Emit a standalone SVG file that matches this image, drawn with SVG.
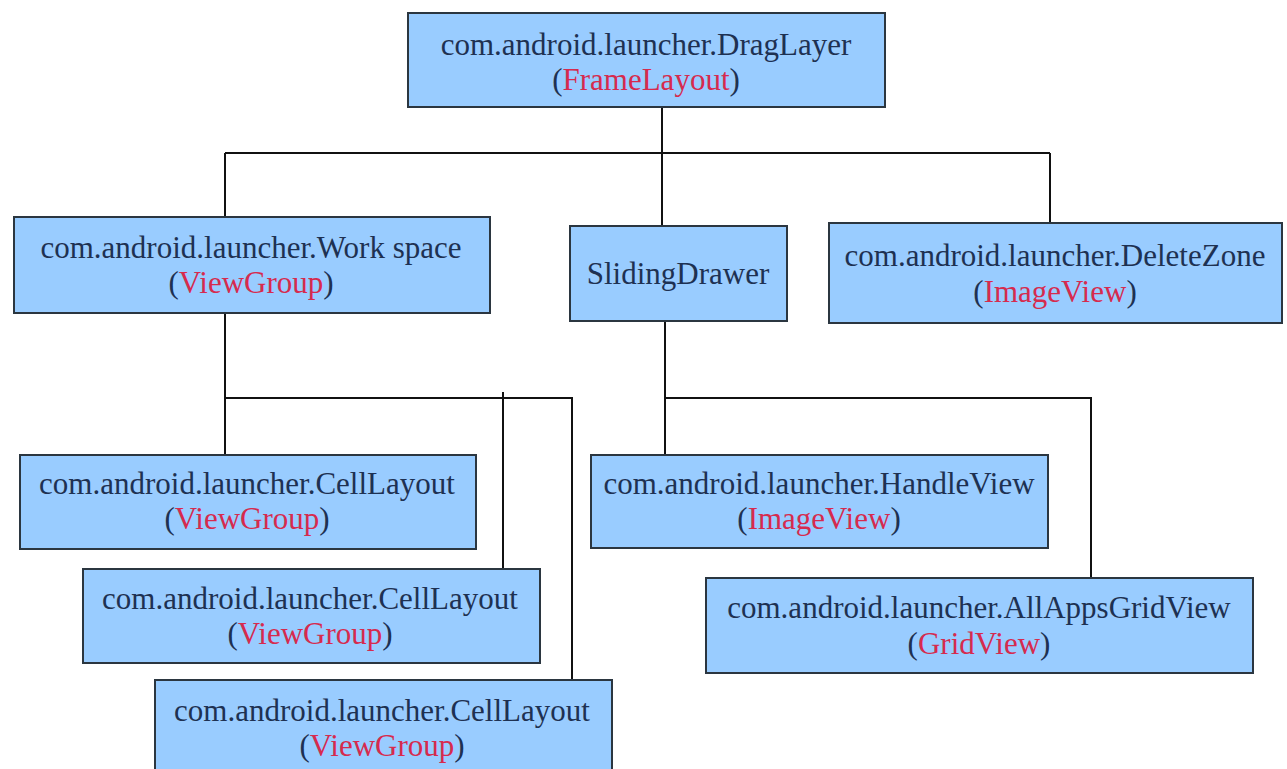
<svg xmlns="http://www.w3.org/2000/svg" width="1287" height="769" viewBox="0 0 1287 769">
<style>
.box{fill:#99ccff;stroke:#2b3640;stroke-width:2}
.t{font-family:"Liberation Serif","Times New Roman",serif;font-size:31px;fill:#1e3152;text-anchor:middle}
.r{fill:#d62a4e}
.c{fill:none;stroke:#111;stroke-width:2}
</style>
<rect width="1287" height="769" fill="#ffffff"/>
<g id="connectors">
<path class="c" d="M662 107V153M225 153H1050M225 153V217M662 153V226M1050 153V223"/>
<path class="c" d="M225 313V455M225 398H572V680M503 392V569"/>
<path class="c" d="M665 321V455M665 398H1091V578"/>
</g>
<g id="draglayer">
<rect class="box" x="408" y="13" width="477" height="94"/>
<text class="t" x="646" y="55">com.android.launcher.DragLayer</text>
<text class="t" x="646" y="90">(<tspan class="r">FrameLayout</tspan>)</text>
</g>
<g id="workspace">
<rect class="box" x="14" y="217" width="476" height="96"/>
<text class="t" x="251" y="258">com.android.launcher.Work space</text>
<text class="t" x="251" y="293">(<tspan class="r">ViewGroup</tspan>)</text>
</g>
<g id="slidingdrawer">
<rect class="box" x="570" y="226" width="217" height="95"/>
<text class="t" x="678" y="284">SlidingDrawer</text>
</g>
<g id="deletezone">
<rect class="box" x="829" y="223" width="453" height="100"/>
<text class="t" x="1055" y="266">com.android.launcher.DeleteZone</text>
<text class="t" x="1055" y="302">(<tspan class="r">ImageView</tspan>)</text>
</g>
<g id="celllayout1">
<rect class="box" x="20" y="455" width="456" height="94"/>
<text class="t" x="247" y="494">com.android.launcher.CellLayout</text>
<text class="t" x="247" y="529">(<tspan class="r">ViewGroup</tspan>)</text>
</g>
<g id="celllayout2">
<rect class="box" x="83" y="569" width="457" height="94"/>
<text class="t" x="310" y="609">com.android.launcher.CellLayout</text>
<text class="t" x="310" y="644">(<tspan class="r">ViewGroup</tspan>)</text>
</g>
<g id="celllayout3">
<rect class="box" x="155" y="680" width="457" height="100"/>
<text class="t" x="382" y="721">com.android.launcher.CellLayout</text>
<text class="t" x="382" y="756">(<tspan class="r">ViewGroup</tspan>)</text>
</g>
<g id="handleview">
<rect class="box" x="591" y="455" width="457" height="93"/>
<text class="t" x="819" y="494">com.android.launcher.HandleView</text>
<text class="t" x="819" y="529">(<tspan class="r">ImageView</tspan>)</text>
</g>
<g id="allappsgridview">
<rect class="box" x="706" y="578" width="547" height="95"/>
<text class="t" x="979" y="618">com.android.launcher.AllAppsGridView</text>
<text class="t" x="979" y="654">(<tspan class="r">GridView</tspan>)</text>
</g>
</svg>
